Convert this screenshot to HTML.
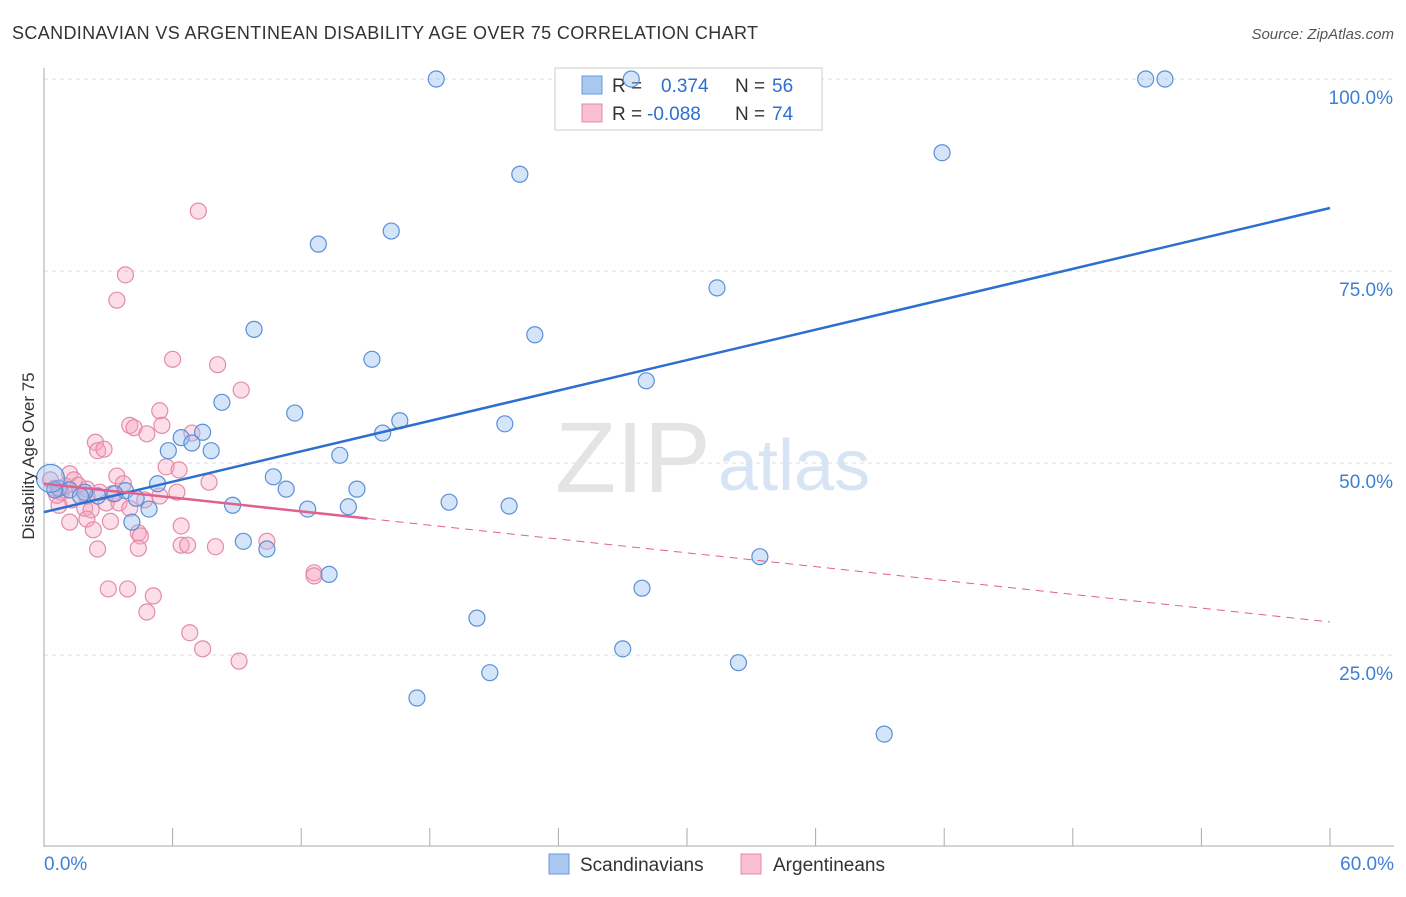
<!DOCTYPE html>
<html><head><meta charset="utf-8">
<style>
body{margin:0;background:#fff;font-family:"Liberation Sans",sans-serif}
svg text{font-family:"Liberation Sans",sans-serif}
</style></head>
<body>
<svg width="1406" height="892" viewBox="0 0 1406 892" xmlns="http://www.w3.org/2000/svg">
<text x="12" y="39" font-size="18" fill="#333" textLength="746" lengthAdjust="spacing">SCANDINAVIAN VS ARGENTINEAN DISABILITY AGE OVER 75 CORRELATION CHART</text>
<text x="1394" y="39" font-size="15" fill="#555" text-anchor="end" font-style="italic">Source: ZipAtlas.com</text>
<g id="grid"></g>
<text x="555" y="492" font-size="100" fill="#e4e4e4" font-family="Liberation Serif">ZIP</text>
<text x="718" y="490" font-size="72" fill="#d6e4f4">atlas</text>
<g id="axes"></g>
<g>
<rect x="555" y="68" width="267" height="62" fill="#fff" stroke="#ccc"/>
<rect x="582" y="76" width="20" height="18" fill="#a9c8f0" stroke="#6b9ad8"/>
<rect x="582" y="104" width="20" height="18" fill="#f7bfd1" stroke="#e48aa8"/>
<text y="92" font-size="19" fill="#333"><tspan x="612">R =</tspan><tspan x="661" fill="#2d6fd0">0.374</tspan><tspan x="735">N =</tspan><tspan x="772" fill="#2d6fd0">56</tspan></text>
<text y="120" font-size="19" fill="#333"><tspan x="612">R =</tspan><tspan x="647" fill="#2d6fd0">-0.088</tspan><tspan x="735">N =</tspan><tspan x="772" fill="#2d6fd0">74</tspan></text>
</g>
<g id="marks"></g>
<text transform="translate(34,456) rotate(-90)" font-size="17" fill="#333" text-anchor="middle">Disability Age Over 75</text>
<g>
<rect x="549" y="854" width="20" height="20" fill="#a9c8f0" stroke="#6b9ad8"/>
<text x="580" y="871" font-size="19" fill="#333">Scandinavians</text>
<rect x="741" y="854" width="20" height="20" fill="#f7bfd1" stroke="#e48aa8"/>
<text x="773" y="871" font-size="19" fill="#333">Argentineans</text>
</g>
</svg>
<script>
const yTicks=[25,50,75,100];
const yTickLabels=["25.0%","50.0%","75.0%","100.0%"];
const xTickLabels=["0.0%","60.0%"];
const blueX=[18.3,51.4,52.3,41.9,22.2,12.8,16.2,31.4,9.8,22.9,15.3,28.1,8.3,11.7,16.6,21.5,15.8,6.4,7.4,6.9,5.8,7.8,13.8,10.7,5.3,11.3,14.6,3.8,3.3,2.5,4.3,18.9,8.8,12.3,14.2,21.7,4.9,4.1,9.3,10.4,33.4,13.3,27.9,20.2,27.0,32.4,20.8,17.4,39.2,0.7,1.2,1.9,1.7,0.5,27.4,0.3];
const blueY=[100,100,100,90.4,87.6,78.5,80.2,72.8,67.4,66.7,63.5,60.7,57.9,56.5,55.5,55.1,53.9,53.3,54.0,52.6,51.6,51.6,51.0,48.2,47.3,46.6,46.6,46.4,46.0,45.7,45.4,44.9,44.5,44.0,44.3,44.4,44.0,42.3,39.8,38.8,37.8,35.5,33.7,29.8,25.8,24.0,22.7,19.4,14.7,46.7,46.5,46.2,45.7,46.5,100,48.0];
const pinkX=[7.2,3.8,3.4,6.0,8.1,9.2,5.4,4.0,4.2,5.5,4.8,6.9,2.4,2.5,2.8,5.7,6.3,3.4,1.2,1.4,1.6,2.0,3.7,7.7,6.2,5.4,4.7,2.9,3.5,1.3,0.7,1.9,2.2,4.0,2.0,3.1,1.2,6.4,2.3,4.4,4.5,6.4,6.7,8.0,10.4,2.5,4.4,3.0,3.9,5.1,4.8,6.8,7.4,9.1,12.6,12.6,0.3,0.5,0.8,1.0,2.6,3.2,0.6,2.0];
const pinkY=[82.8,74.5,71.2,63.5,62.8,59.5,56.8,54.9,54.6,54.9,53.8,53.9,52.7,51.6,51.8,49.5,49.1,48.3,48.6,47.8,47.1,46.6,47.3,47.5,46.2,45.7,45.2,44.8,44.8,45.2,44.5,44.1,43.9,44.1,42.7,42.4,42.3,41.8,41.3,40.9,40.5,39.3,39.3,39.1,39.8,38.8,38.9,33.6,33.6,32.7,30.6,27.9,25.8,24.2,35.7,35.3,47.8,46.7,46.2,47.0,46.2,46.0,45.8,45.7];
const blueTrend=[43.6,83.2];
const pinkTrend=[47.3,29.3];
const pinkSolidEnd=15.1;
const X=v=>44+v/60*1286, Y=v=>847-v/100*768;
const NS="http://www.w3.org/2000/svg";
function mk(t,a,p){const e=document.createElementNS(NS,t);for(const k in a)e.setAttribute(k,a[k]);p.appendChild(e);return e;}
const grid=document.getElementById('grid'),axes=document.getElementById('axes'),marks=document.getElementById('marks');
yTicks.forEach((t,i)=>{
 const l=mk('line',{x1:44,x2:1394,y1:Y(t),y2:Y(t),stroke:'#ddd','stroke-dasharray':'4 4'},grid);
 
 
 const tx=mk('text',{x:1393,y:Y(t)+25,'font-size':19,fill:'#3f7fd6','text-anchor':'end'},axes);
 tx.textContent=yTickLabels[i];
 
 
});
const ax=mk('line',{x1:44,x2:44,y1:68,y2:847,stroke:'#aaa'},axes);


const bx=mk('line',{x1:44,x2:1394,y1:846,y2:846,stroke:'#aaa'},axes);


for(let i=0;i<=10;i++){const tk=mk('line',{x1:X(i*6),x2:X(i*6),y1:828,y2:846,stroke:'#aaa'},axes);
 
 }
[[0,'start',44],[60,'end',1394]].forEach((d,i)=>{const t=mk('text',{x:d[2],y:870,'font-size':19,fill:'#3f7fd6','text-anchor':d[1]},axes);t.textContent=xTickLabels[i];
 
 });
pinkX.forEach((x,i)=>{const c=mk('circle',{cx:X(x),cy:Y(pinkY[i]),r:8,fill:'rgba(245,160,190,0.35)',stroke:'#e58aaa','stroke-width':1.2},marks);
 
 });
blueX.forEach((x,i)=>{const c=mk('circle',{cx:X(x),cy:Y(blueY[i]),r:i==blueX.length-1?14:8,fill:'rgba(150,190,240,0.4)',stroke:'#5b8fd6','stroke-width':1.2},marks);
 
 });
const bt=mk('line',{x1:X(0),y1:Y(blueTrend[0]),x2:X(60),y2:Y(blueTrend[1]),stroke:'#2d6fd0','stroke-width':2.5},marks);


const pm=pinkTrend[0]+(pinkTrend[1]-pinkTrend[0])*pinkSolidEnd/60;
const ps=mk('line',{x1:X(0),y1:Y(pinkTrend[0]),x2:X(pinkSolidEnd),y2:Y(pm),stroke:'#e0608e','stroke-width':2.5},marks);


const pd=mk('line',{x1:X(pinkSolidEnd),y1:Y(pm),x2:X(60),y2:Y(pinkTrend[1]),stroke:'#e0608e','stroke-width':1,'stroke-dasharray':'8 6'},marks);


</script>
</body></html>
